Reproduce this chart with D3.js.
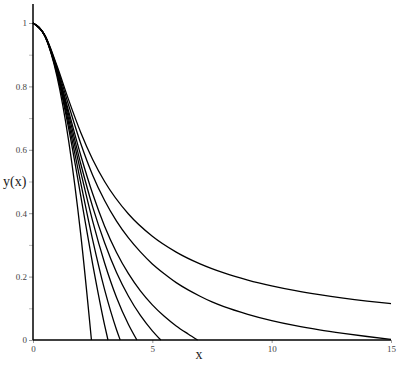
<!DOCTYPE html>
<html>
<head>
<meta charset="utf-8">
<title>y(x)</title>
<style>
  body { margin: 0; background: #fff; }
  .tick text { font-family: "Liberation Serif", "Times New Roman", serif; font-size: 9px; fill: #444; }
  .label { font-family: "Liberation Serif", "Times New Roman", serif; fill: #222; }
  .curve { fill: none; stroke: #000; stroke-width: 1.3px; }
</style>
</head>
<body>
<div id="vis"></div>
<script src="https://cdn.jsdelivr.net/npm/d3@7"></script>
<script>
// curves, one per index n
var x0 = [0, 0.5, 1, 1.5, 2, 2.449];
var y0 = [1, 0.9583, 0.8333, 0.625, 0.3333, 0];

var x1 = [0, 0.5, 1, 1.5, 2, 2.5, 3, 3.1416];
var y1 = [1, 0.9589, 0.8415, 0.665, 0.4546, 0.2394, 0.047, 0];

var x15 = [0, 0.5, 1, 1.5, 2, 2.5, 3, 3.5, 3.654];
var y15 = [1, 0.9591, 0.8452, 0.6811, 0.4959, 0.316, 0.159, 0.0326, 0];

var x2 = [0, 0.5, 1, 1.5, 2, 2.5, 3, 3.5, 4, 4.353];
var y2 = [1, 0.9594, 0.8487, 0.6954, 0.530, 0.375, 0.243, 0.134, 0.0488, 0];

var x25 = [0, 0.5, 1, 1.5, 2, 2.5, 3, 3.5, 4, 4.5, 5, 5.355];
var y25 = [1, 0.9596, 0.8519, 0.7085, 0.556, 0.420, 0.307, 0.213, 0.138, 0.0775, 0.029, 0];

var x3 = [0, 0.5, 1, 1.5, 2, 2.5, 3, 3.5, 4, 4.5, 5, 5.5, 6, 6.5, 6.897];
var y3 = [1, 0.9597, 0.855, 0.7195, 0.5829, 0.4611, 0.3592, 0.2762, 0.2092, 0.155, 0.1109, 0.0748, 0.0444, 0.019, 0];

var x4 = [0, 0.5, 1, 1.5, 2, 2.5, 3, 3.5, 4, 4.5, 5, 5.5, 6, 6.5, 7, 7.5, 8, 9, 10, 11, 12, 13, 14, 15];
var y4 = [1, 0.960, 0.861, 0.739, 0.620, 0.520, 0.440, 0.375, 0.322, 0.278, 0.240, 0.209, 0.181, 0.158, 0.138, 0.120, 0.105, 0.081, 0.061, 0.045, 0.032, 0.021, 0.011, 0.002];

var x5 = [0, 0.5, 1, 1.5, 2, 2.5, 3, 4, 5, 6, 7, 8, 9, 10, 11, 12, 13, 14, 15];
var y5 = [1, 0.9608, 0.866, 0.7559, 0.6547, 0.5695, 0.5, 0.3974, 0.3273, 0.2774, 0.2402, 0.2116, 0.189, 0.1707, 0.1555, 0.1429, 0.1321, 0.1228, 0.1147];

var xTicks = [0, 5, 10, 15];
var yTicks = [0, 0.2, 0.4, 0.6, 0.8, 1];
var yMinor = [0.1, 0.3, 0.5, 0.7, 0.9];

var series = [
  {xs: x0, ys: y0}, {xs: x1, ys: y1}, {xs: x15, ys: y15}, {xs: x2, ys: y2},
  {xs: x25, ys: y25}, {xs: x3, ys: y3}, {xs: x4, ys: y4}, {xs: x5, ys: y5, top: true}
];

var width = 400, height = 367;

var svg = d3.select("#vis").append("svg")
    .attr("width", width)
    .attr("height", height);

var x = d3.scaleLinear().domain([0, 15]).range([33, 391]);
var y = d3.scaleLinear().domain([0, 1]).range([340, 23]);

// y axis
svg.append("g")
    .attr("transform", "translate(" + x(0) + ",0)")
    .call(d3.axisLeft(y).tickValues(yMinor).tickSize(4).tickFormat(""))
    .call(function(g) {
  g.select(".domain").remove();
  g.selectAll(".tick line").attr("stroke", "#bbb");
});

svg.append("g")
    .attr("transform", "translate(" + x(0) + ",0)")
    .call(d3.axisLeft(y).tickValues(yTicks).tickSize(4).tickPadding(2)
        .tickFormat(function(d) { return d3.format("~g")(d); }))
    .call(function(g) {
  g.select(".domain").remove();
  g.selectAll(".tick line").attr("stroke", "#999");
});

// x axis
svg.append("g")
    .attr("transform", "translate(0," + y(0) + ")")
    .call(d3.axisBottom(x).tickValues(xTicks).tickSize(3).tickPadding(3))
    .call(function(g) {
  g.select(".domain").remove();
  g.selectAll(".tick line").attr("stroke", "#999");
});

svg.append("line")
    .attr("x1", x(0)).attr("x2", x(0))
    .attr("y1", 4).attr("y2", y(0))
    .attr("stroke", "#000").attr("stroke-width", 1.5);

svg.append("line")
    .attr("x1", x(0)).attr("x2", x(15))
    .attr("y1", y(0)).attr("y2", y(0))
    .attr("stroke", "#000").attr("stroke-width", 1.5);

var line = d3.line()
    .x(function(d) { return x(d[0]); })
    .y(function(d) { return y(d[1]); })
    .curve(d3.curveMonotoneX);

svg.selectAll(".curve")
    .data(series)
    .enter()
    .append("path")
    .attr("class", "curve")
    .attr("stroke-width", function(d) { return d.top ? 1.8 : 1.3; })
    .attr("d", function(d) {
  return line(d.xs.map(function(v, i) { return [v, d.ys[i]]; }));
});

svg.append("text")
    .attr("class", "label")
    .attr("x", 199).attr("y", 359)
    .attr("text-anchor", "middle")
    .style("font-size", "14px")
    .text("x");

svg.append("text")
    .attr("class", "label")
    .attr("x", 3).attr("y", 186)
    .style("font-size", "14px")
    .text("y(x)");
</script>
</body>
</html>
